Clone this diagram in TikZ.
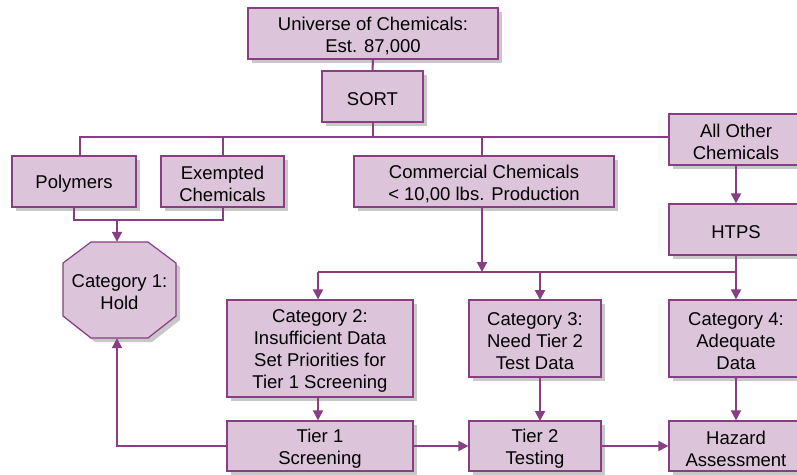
\documentclass[tikz,border=0pt]{standalone}
\usepackage{fontspec}
\setmainfont{Liberation Sans}
\usetikzlibrary{arrows.meta,calc}
\definecolor{boxfill}{RGB}{220,196,218}
\definecolor{pline}{RGB}{137,62,132}
\definecolor{shadowgray}{RGB}{200,200,200}
% \shnode{name}{cx}{cy}{w}{h}{text}
\newcommand{\shnode}[6]{%
  \fill[shadowgray] ({#2-#4/2+4},{#3-#5/2+4}) rectangle ({#2+#4/2+4},{#3+#5/2+4});
  \node[box,minimum width=#4pt,minimum height=#5pt] (#1) at (#2,#3) {};
  \node[txt] (#1-t) at ({#2},{#3+2.5}) {#6};}
\begin{document}
\begin{tikzpicture}[x=1pt,y=-1pt,
  every node/.style={font=\fontsize{18.5}{22}\selectfont},
  box/.style={draw=pline,line width=1.2pt,fill=boxfill,inner sep=0pt},
  txt/.style={align=center,inner sep=0pt},
  conn/.style={draw=pline,line width=2pt},
  arr/.style={conn,-{Triangle[length=10pt,width=10pt]}}]
\fill[white] (0,0) rectangle (797,474);
\clip (0,0) rectangle (797,474);
% nodes
\shnode{univ}{373}{33.5}{250}{51}{Universe of Chemicals:\\Est. 87,000}
\shnode{sort}{372.5}{96.5}{101}{51}{SORT}
\shnode{poly}{74}{181.5}{124}{51}{Polymers}
\shnode{exem}{222.5}{181.5}{123}{51}{Exempted\\Chemicals}
\shnode{comm}{484}{181.5}{260}{51}{Commercial Chemicals\\< 10,00 lbs. Production}
\shnode{other}{736}{139.5}{134}{51}{All Other\\Chemicals}
\shnode{htps}{736}{229.5}{134}{51}{HTPS}
% octagon
\fill[shadowgray,shift={(4,4)}]
  (91,242) -- (148,242) -- (176,263) -- (176,316) -- (148,338) -- (91,338) -- (63,316) -- (63,263) -- cycle;
\draw[draw=pline,line width=1.2pt,fill=boxfill]
  (91,242) -- (148,242) -- (176,263) -- (176,316) -- (148,338) -- (91,338) -- (63,316) -- (63,263) -- cycle;
\node[minimum width=113pt,minimum height=96pt,inner sep=0pt] (oct) at (119.5,290) {};
\node[txt] (oct-t) at (119.5,292.5) {Category 1:\\Hold};
\shnode{cat2}{320}{348.5}{186}{97}{Category 2:\\Insufficient Data\\Set Priorities for\\Tier 1 Screening}
\shnode{cat3}{535}{338.5}{132}{77}{Category 3:\\Need Tier 2\\Test Data}
\shnode{cat4}{736}{338.5}{134}{77}{Category 4:\\Adequate\\Data}
\shnode{tier1}{320}{446}{186}{50}{Tier 1\\Screening}
\shnode{tier2}{535}{446}{132}{50}{Tier 2\\Testing}
\shnode{haz}{736}{446}{134}{50}{Hazard\\Assessment}
% bus coordinates
\coordinate (b1) at (372.5,137);
\coordinate (b1l) at (80,137);
\coordinate (m) at (117,220);
\coordinate (b2) at (482,272);
\coordinate (b2l) at (318,272);
\coordinate (b2r) at (736,272);
% connectors
\draw[conn] (univ.south) -- (sort.north);
\draw[conn] (sort.south) -- (b1);
\draw[conn] (b1l |- poly.north) -- (b1l) -- (other.west |- b1l);
\draw[conn] (exem.north) -- (exem.north |- b1l);
\draw[conn] (comm.north -| b2) -- (b2 |- b1l);
\draw[conn] (poly.south) -- (poly.south |- m) -- (exem.south |- m) -- (exem.south);
\draw[arr] (m) -- (m |- oct.north);
\draw[arr] (comm.south -| b2) -- (b2);
\draw[conn] (b2l) -- (b2r);
\draw[arr] (b2l) -- (b2l |- cat2.north);
\draw[arr] (540,272) -- (540,300);
\draw[arr] (htps.south) -- (cat4.north);
\draw[arr] (other.south) -- (htps.north);
\draw[arr] (cat2.south -| b2l) -- (tier1.north -| b2l);
\draw[arr] (540,377) -- (540,421);
\draw[arr] (cat4.south) -- (haz.north);
\draw[arr] (tier1.east) -- (tier2.west);
\draw[arr] (tier2.east) -- (haz.west);
\draw[arr] (tier1.west) -- (m |- tier1.west) -- (m |- oct.south);
\end{tikzpicture}
\end{document}
